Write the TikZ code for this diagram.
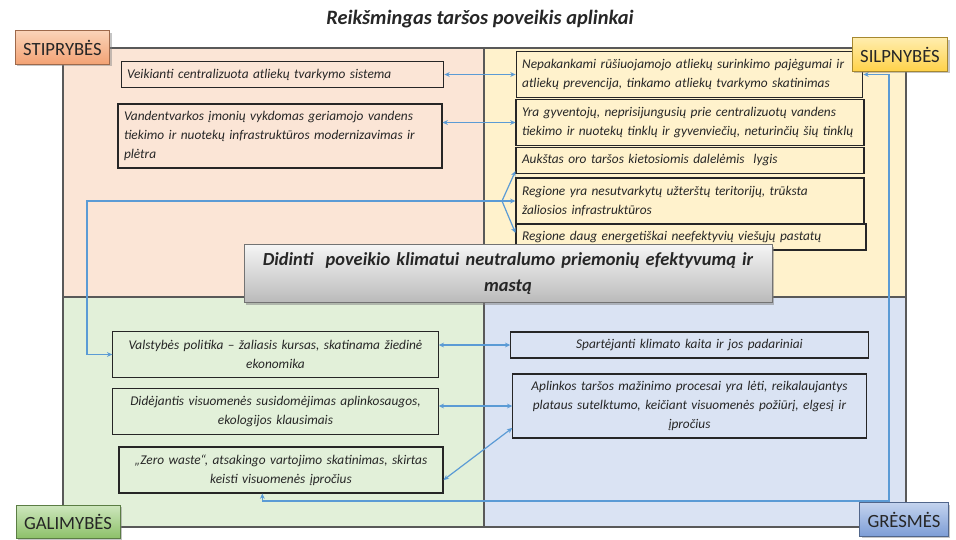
\documentclass[tikz,border=0pt]{standalone}
\usepackage{fontspec}
\setmainfont{Carlito}
\usetikzlibrary{arrows.meta,shadows}
\definecolor{strpeach}{HTML}{FBE5D6}
\definecolor{weakyellow}{HTML}{FFF2CC}
\definecolor{oppgreen}{HTML}{E2F0D9}
\definecolor{thrblue}{HTML}{DAE3F3}
\definecolor{framegray}{HTML}{595959}
\definecolor{linkblue}{HTML}{5B9BD5}
\definecolor{textdark}{HTML}{262626}
\definecolor{strtop}{HTML}{FAD3B8}
\definecolor{strbot}{HTML}{F3A274}
\definecolor{weaktop}{HTML}{FFEDAE}
\definecolor{weakbot}{HTML}{FFD249}
\definecolor{opptop}{HTML}{CDE6BD}
\definecolor{oppbot}{HTML}{8CC068}
\definecolor{thrtop}{HTML}{C3D3EE}
\definecolor{thrbot}{HTML}{7D9DD6}
\newcommand{\cornertag}[6]{%
	\node[cornertag, top color=#4, bottom color=#5, draw=#5!65!black] (#1) at (#2,#3) {#6};
}

\begin{document}
\begin{tikzpicture}[x=0.75pt,y=-0.75pt,
	item/.style={draw=textdark, line width=0.8pt, inner xsep=4.5pt, inner ysep=2pt,
		font=\fontsize{10}{14.25}\selectfont\itshape, text=textdark},
	cornertag/.style={line width=0.6pt, inner xsep=6pt, minimum height=25pt,
		font=\fontsize{14}{16}\selectfont, text=textdark,
		drop shadow={shadow xshift=1.5pt, shadow yshift=-1.5pt, opacity=0.45}},
	link/.style={draw=linkblue, line width=0.9pt,
		{Stealth[length=4pt,width=3.6pt]}-{Stealth[length=4pt,width=3.6pt]}},
	tip/.style={draw=linkblue, line width=0.9pt, -{Stealth[length=4pt,width=3.6pt]}}]
	% Fixed white canvas with the reference proportions.
	\path[use as bounding box] (0,0) rectangle (956,539);
	\fill[white] (0,0) rectangle (956,539);

	% Title.
	\node[font=\fontsize{15.3}{18}\selectfont\bfseries\itshape, text=textdark] (title) at (480,19)
		{Reikšmingas taršos poveikis aplinkai};

	% Four quadrants and frame.
	\fill[strpeach] (63,48) rectangle (484,297);
	\fill[weakyellow] (484,48) rectangle (906,297);
	\fill[oppgreen] (63,297) rectangle (484,527);
	\fill[thrblue] (484,297) rectangle (906,527);
	\draw[framegray, line width=1pt] (63,48) rectangle (906,527);
	\draw[framegray, line width=1pt] (484,48) -- (484,527);
	\draw[framegray, line width=1pt] (63,297) -- (906,297);

	% Strengths.
	\node[item, align=left, minimum width=242pt, minimum height=20pt, text width=233pt] (s1) at (282.5,74.5)
		{Veikianti centralizuota atliekų tvarkymo sistema};
	\node[item, align=left, minimum width=243pt, minimum height=48pt, text width=234pt] (s2) at (280,136)
		{Vandentvarkos įmonių vykdomas geriamojo vandens\\tiekimo ir nuotekų infrastruktūros modernizavimas ir\\plėtra};

	% Weaknesses.
	\node[item, align=left, minimum width=260pt, minimum height=34pt, text width=251pt] (w1) at (689.5,74.5)
		{Nepakankami rūšiuojamojo atliekų surinkimo pajėgumai ir\\atliekų prevencija, tinkamo atliekų tvarkymo skatinimas};
	\node[item, align=left, minimum width=261pt, minimum height=35pt, text width=252pt] (w2) at (690,122.5)
		{Yra gyventojų, neprisijungusių prie centralizuotų vandens\\tiekimo ir nuotekų tinklų ir gyvenviečių, neturinčių šių tinklų};
	\node[item, align=left, minimum width=261pt, minimum height=19pt, text width=252pt] (w3) at (690,160.5)
		{Aukštas oro taršos kietosiomis dalelėmis\ \ lygis};
	\node[item, align=left, minimum width=261pt, minimum height=34.5pt, text width=252pt] (w4) at (690,201)
		{Regione yra nesutvarkytų užterštų teritorijų, trūksta\\žaliosios infrastruktūros};
	\node[item, align=left, minimum width=262.5pt, minimum height=19.5pt, text width=253.5pt] (w5) at (691,237)
		{Regione daug energetiškai neefektyvių viešųjų pastatų};

	% Opportunities.
	\node[item, align=center, minimum width=244pt, minimum height=34.5pt, text width=235pt] (o1) at (275.5,354.5)
		{Valstybės politika – žaliasis kursas, skatinama žiedinė\\ekonomika};
	\node[item, align=center, minimum width=244pt, minimum height=34pt, text width=235pt] (o2) at (275.5,411.5)
		{Didėjantis visuomenės susidomėjimas aplinkosaugos,\\ekologijos klausimais};
	\node[item, align=center, minimum width=243pt, minimum height=34.5pt, text width=234pt] (o3) at (281,470)
		{„Zero waste“, atsakingo vartojimo skatinimas, skirtas\\keisti visuomenės įpročius};

	% Threats.
	\node[item, align=center, minimum width=268pt, minimum height=19.5pt, text width=259pt] (t1) at (689.5,345)
		{Spartėjanti klimato kaita ir jos padariniai};
	\node[item, align=center, minimum width=265pt, minimum height=48pt, text width=256pt] (t2) at (689.5,406)
		{Aplinkos taršos mažinimo procesai yra lėti, reikalaujantys\\plataus sutelktumo, keičiant visuomenės požiūrį, elgesį ir\\įpročius};

	% Connectors between the quadrants.
	\draw[link] (s1.east) -- (w1.west);
	\draw[link] (w2.west) -- (w2.west -| s2.east);
	\coordinate (fan) at (502,201);
	\coordinate (bendL) at (87,201);
	\draw[link] (w4.west) -- (bendL) |- (o1.west);
	\draw[tip] (fan) -- ([yshift=2pt]w3.south west);
	\draw[tip] (fan) -- ([yshift=3pt]w5.west);
	\draw[link] (t1.west) -- (t1.west -| o1.east);
	\draw[link] (t2.west) -- (t2.west -| o2.east);
	\draw[link] ([yshift=-7.5pt]o3.east) -- ([yshift=-16.5pt]t2.west);

	% Loop along the right edge, from weaknesses round to the last opportunity.
	\coordinate (loopBot) at (889,501);
	\draw[link] (w1.east) -- (w1.east -| loopBot) -- (loopBot) -| ([xshift=-14pt]o3.south);

	% Central goal.
	\node[draw=black!55, line width=0.6pt, top color=black!4, bottom color=black!27,
		minimum width=396pt, minimum height=43pt, text width=385pt, align=center,
		font=\fontsize{13.8}{19.5}\selectfont\bfseries\itshape, text=textdark,
		drop shadow={shadow xshift=1.8pt, shadow yshift=-1.8pt, opacity=0.5}] (goal) at (508,273.5)
		{Didinti\ \ poveikio klimatui neutralumo priemonių efektyvumą ir\\mastą};

	% Corner tags.
	\cornertag{stip}{62.5}{47.5}{strtop}{strbot}{STIPRYBĖS}
	\cornertag{silp}{900}{54.5}{weaktop}{weakbot}{SILPNYBĖS}
	\cornertag{gali}{68}{522}{opptop}{oppbot}{GALIMYBĖS}
	\cornertag{gres}{904}{519.5}{thrtop}{thrbot}{GRĖSMĖS}
\end{tikzpicture}
\end{document}
